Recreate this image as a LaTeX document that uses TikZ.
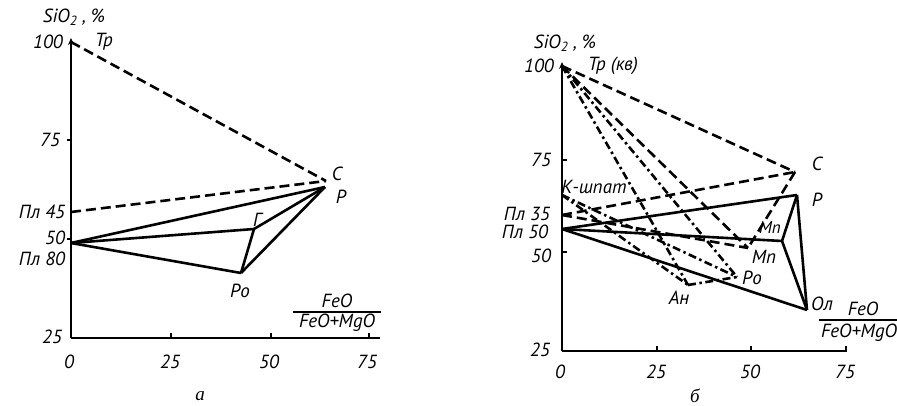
\documentclass[tikz,border=0pt]{standalone}
\usepackage{fontspec}
\newfontfamily\lab{PT Sans}
\newfontfamily\capf{Liberation Serif}
\usetikzlibrary{arrows.meta}
\tikzset{
  ax/.style={line width=1.2pt},
  solidl/.style={line width=2.6pt, line join=miter},
  dashl/.style={line width=2.6pt, dash pattern=on 10pt off 5pt},
  ddot/.style={line width=2.6pt, dash pattern=on 8pt off 3.5pt on 2.5pt off 3.5pt},
  lbl/.style={font=\lab\itshape\fontsize{19}{19}\selectfont, inner sep=0pt},
  cpt/.style={font=\capf\itshape\fontsize{19}{19}\selectfont, inner sep=0pt},
  tick/.style={line width=1.2pt}
}
\begin{document}
\begin{tikzpicture}[x=1pt,y=-1pt]
\useasboundingbox (0,0) rectangle (897,406);
% ---------- panel a ----------
\coordinate (aO) at (71,338);
\coordinate (aTop) at (71,38);
\coordinate (aXend) at (380,338);
\draw[ax,-{Stealth[length=7pt,width=6pt]}] (aO) -- (aTop);
\draw[ax] (aO) -- (aXend);
\foreach \x/\n in {171/a1,271/a2,369/a3} {\coordinate (\n) at (\x,338); \draw[tick] (\n) -- ++(0,-5);}
\foreach \y/\n in {140/ay1,239/ay2} {\coordinate (\n) at (71,\y); \draw[tick] (\n) -- ++(-4,0);}
\coordinate (aTp) at (71,42);
\coordinate (aC) at (326,181);
\coordinate (aP) at (325,187);
\coordinate (a45) at (71,212);
\coordinate (a50) at (71,243);
\coordinate (aG) at (254,229);
\coordinate (aPo) at (241,273);
\draw[dashl] (aTp) -- (aC);
\draw[dashl] (a45) -- (aC);
\draw[solidl] (a50) -- (aP);
\draw[solidl] (a50) -- (aG);
\draw[solidl] (a50) -- (aPo);
\draw[solidl] (aG) -- (aP);
\draw[solidl] (aPo) -- (aP);
\draw[solidl] (aG) -- (aPo);
\node[lbl] (aSi) at (74,17) {SiO\textsubscript{2} , \%};
\node[lbl] (a100) at (48,42) {100};
\node[lbl] (aTpL) at (104,42) {Tp};
\node[lbl] (a75) at (50,140) {75};
\node[lbl] (a45L) at (42,212) {Пл 45};
\node[lbl] (a50L) at (55,238) {50};
\node[lbl] (a80L) at (42,259) {Пл 80};
\node[lbl] (a25L) at (52,337) {25};
\node[lbl] (aCL) at (337,174) {C};
\node[lbl] (aPL) at (341,197) {P};
\node[lbl] (aGL) at (257,220) {Г};
\node[lbl] (aPoL) at (240,291) {Po};
\node[lbl] (ax0) at (69,362) {0};
\node[lbl] (ax25) at (170,362) {25};
\node[lbl] (ax50) at (269,362) {50};
\node[lbl] (ax75) at (367,362) {75};
\node[lbl] (aNum) at (337,301) {FeO};
\node[lbl] (aDen) at (337,323) {FeO+MgO};
\draw[line width=1.4pt] (293,312) -- (381,312);
\node[cpt] (aCap) at (200,396) {а};
% ---------- panel b ----------
\coordinate (bO) at (562,351);
\coordinate (bTop) at (562,62);
\coordinate (bXend) at (847,351);
\draw[ax,-{Stealth[length=7pt,width=6pt]}] (bO) -- (bTop);
\draw[ax] (bO) -- (bXend);
\foreach \x/\n in {657/b1,751/b2,846/b3} {\coordinate (\n) at (\x,351); \draw[tick] (\n) -- ++(0,-5);}
\foreach \y/\n in {160/by1,252/by2} {\coordinate (\n) at (562,\y); \draw[tick] (\n) -- ++(5,0);}
\coordinate (bTp) at (562,66);
\coordinate (bC) at (795,172);
\coordinate (bP) at (797,195);
\coordinate (bOl) at (807,310);
\coordinate (bMv) at (782,241);
\coordinate (bMn) at (748,248);
\coordinate (bPo) at (737,277);
\coordinate (bAn) at (688,285);
\coordinate (b50) at (562,229);
\coordinate (b35) at (562,215);
\coordinate (bK) at (562,195);
% dashed tetrahedron
\draw[dashl] (bTp) -- (bC);
\draw[dashl] (bTp) -- (bMn);
\draw[dashl] (bC) -- (bMn);
\draw[dashl] (b35) -- (bC);
\draw[dashl] (b35) -- (bMn);
% dash-dot tetrahedron
\draw[ddot] (bTp) -- (bAn);
\draw[ddot] (bTp) -- (bPo);
\draw[ddot] (bK) -- (bPo);
\draw[ddot] (bK) -- (bAn);
\draw[ddot] (bAn) -- (bPo);
% solid tetrahedron
\draw[solidl] (b50) -- (bP);
\draw[solidl] (b50) -- (bMv);
\draw[solidl] (b50) -- (bOl);
\draw[solidl] (bP) -- (bMv);
\draw[solidl] (bP) -- (bOl);
\draw[solidl] (bMv) -- (bOl);
\node[lbl] (bSi) at (565,43) {SiO\textsubscript{2} , \%};
\node[lbl] (b100) at (539,66) {100};
\node[lbl] (bTpL) at (613,66) {Tp (кв)};
\node[lbl] (b75) at (541,160) {75};
\node[lbl] (bKL) at (594,187) {К-шпат};
\node[lbl] (b35L) at (527,214) {Пл 35};
\node[lbl] (b50L) at (525,232) {Пл 50};
\node[lbl] (b50t) at (541,256) {50};
\node[lbl] (b25L) at (540,350) {25};
\node[lbl] (bCL) at (817,164) {C};
\node[lbl] (bPL) at (817,200) {P};
\node[lbl,font=\lab\itshape\fontsize{17}{17}\selectfont] (bMvL) at (770,228) {Mn};
\node[lbl] (bMnL) at (764,257) {Mn};
\node[lbl] (bPoL) at (752,278) {Po};
\node[lbl] (bAnL) at (679,298) {Ан};
\node[lbl] (bOlL) at (822,304) {Ол};
\node[lbl] (bx0) at (560,372) {0};
\node[lbl] (bx25) at (656,372) {25};
\node[lbl] (bx50) at (750,372) {50};
\node[lbl] (bx75) at (845,372) {75};
\node[lbl] (bNum) at (863,309) {FeO};
\node[lbl] (bDen) at (859,333) {FeO+MgO};
\draw[line width=1.4pt] (819,320) -- (897,320);
\node[cpt] (bCap) at (695,396) {б};
\end{tikzpicture}
\end{document}
